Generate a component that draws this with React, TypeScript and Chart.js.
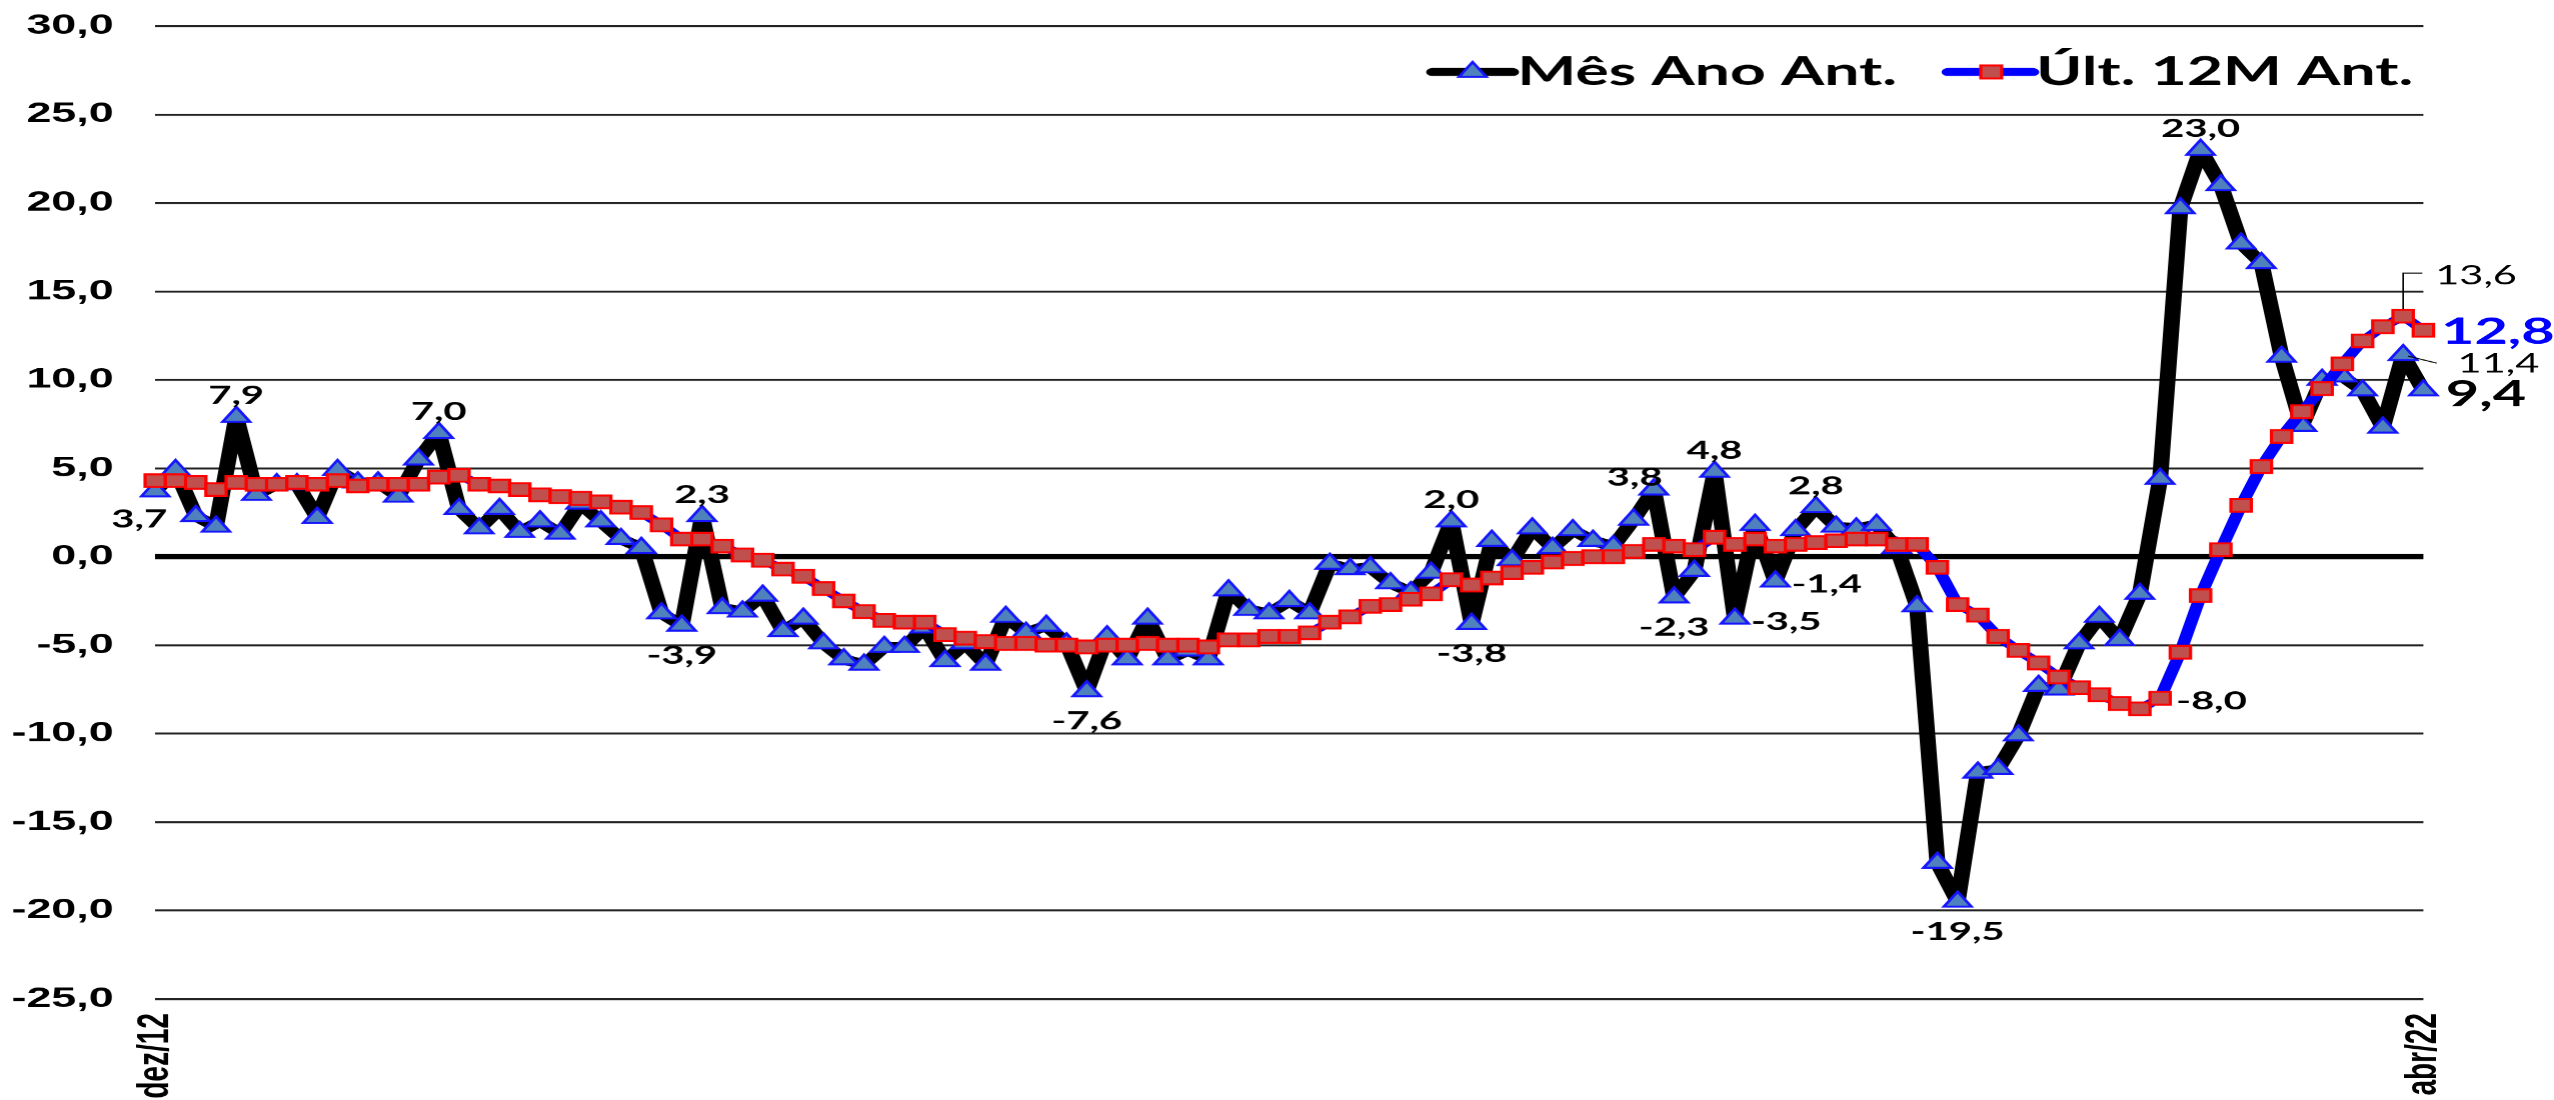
import React, { useEffect, useRef } from 'react';
import { Chart, registerables } from 'chart.js';

Chart.register(...registerables);

// ---------- data ----------
const monthNames = ['jan', 'fev', 'mar', 'abr', 'mai', 'jun', 'jul', 'ago', 'set', 'out', 'nov', 'dez'];
const categories: string[] = [];
for (let k = 0; k < 113; k++) {
  const m = (11 + k) % 12;
  const y = 12 + Math.floor((11 + k) / 12);
  categories.push(`${monthNames[m]}/${String(y).padStart(2, '0')}`);
}
const shownTickIdx = [0, 112];

const mesAnoAnt = [
  3.7, 4.9, 2.3, 1.7, 7.9, 3.5, 4.1, 4.1, 2.2, 4.9,
  4.2, 4.2, 3.4, 5.5, 7.0, 2.7, 1.6, 2.7, 1.4, 2.0,
  1.3, 3.0, 2.0, 1.0, 0.5, -3.2, -3.9, 2.3, -2.9, -3.1,
  -2.2, -4.2, -3.5, -4.9, -5.8, -6.1, -5.1, -5.1, -4.0, -5.9,
  -4.9, -6.1, -3.4, -4.3, -3.9, -4.9, -7.6, -4.5, -5.8, -3.5,
  -5.8, -5.3, -5.8, -1.9, -3.0, -3.2, -2.5, -3.2, -0.4, -0.7,
  -0.6, -1.5, -2.0, -0.9, 2.0, -3.8, 0.9, -0.2, 1.6, 0.5,
  1.5, 0.9, 0.6, 2.1, 3.8, -2.3, -0.8, 4.8, -3.5, 1.8,
  -1.4, 1.5, 2.8, 1.7, 1.6, 1.8, 0.5, -2.8, -17.3, -19.5,
  -12.2, -12.0, -10.1, -7.3, -7.5, -4.9, -3.4, -4.7, -2.1, 4.4,
  19.7, 23.0, 21.0, 17.7, 16.6, 11.3, 7.4, 10.0, 10.2, 9.4,
  7.3, 11.4, 9.4,
];

const ult12MAnt = [
  4.3, 4.3, 4.2, 3.8, 4.2, 4.1, 4.1, 4.2, 4.1, 4.3,
  4.0, 4.1, 4.1, 4.1, 4.5, 4.6, 4.1, 4.0, 3.8, 3.5,
  3.4, 3.3, 3.1, 2.8, 2.5, 1.8, 1.0, 1.0, 0.6, 0.1,
  -0.2, -0.7, -1.1, -1.8, -2.5, -3.1, -3.6, -3.7, -3.7, -4.4,
  -4.6, -4.8, -4.9, -4.9, -5.0, -5.0, -5.1, -5.0, -5.0, -4.9,
  -5.0, -5.0, -5.1, -4.7, -4.7, -4.5, -4.5, -4.3, -3.7, -3.4,
  -2.8, -2.7, -2.4, -2.1, -1.3, -1.6, -1.2, -0.9, -0.6, -0.3,
  -0.1, 0.0, 0.0, 0.3, 0.7, 0.6, 0.4, 1.1, 0.7, 1.0,
  0.6, 0.7, 0.8, 0.9, 1.0, 1.0, 0.7, 0.7, -0.6, -2.7,
  -3.3, -4.5, -5.3, -6.0, -6.8, -7.4, -7.8, -8.3, -8.6, -8.0,
  -5.4, -2.2, 0.4, 2.9, 5.1, 6.8, 8.2, 9.5, 10.9, 12.2,
  13.0, 13.6, 12.8,
];

const seriesNames = ['Mês Ano Ant.', 'Últ. 12M Ant.'];
const yMin = -25;
const yMax = 30;
const yStep = 5;

// labelled points: [index, position]
const mesLabelIdx = [0, 4, 14, 26, 27, 46, 64, 65, 74, 75, 77, 78, 80, 82, 89, 101];
const mesLabelPos = ['bl', 't', 't', 'b', 't', 'b', 't', 'b', 'tl', 'b', 't', 'r', 'r', 't', 'b', 't'];
const ultLabelIdx = [99];
const ultLabelPos = ['r'];

// ---------- geometry / styles ----------
const STRETCH = 1.6; // reference is horizontally stretched
const FULL_W = 2554;
const H = 1100;
const W = 1596;

const fmt = (v: number) => v.toFixed(1).replace('.', ',');
const LABEL_FONT = 'bold 25px Lato';

const dataLabelPlugin = {
  id: 'dataLabelsCustom',
  afterDatasetsDraw(chart: any) {
    const ctx = chart.ctx as CanvasRenderingContext2D;
    const m0 = chart.getDatasetMeta(0);
    const m1 = chart.getDatasetMeta(1);
    ctx.save();
    ctx.fillStyle = '#000';

    const drawAt = (meta: any, values: number[], idx: number, pos: string) => {
      const p = meta.data[idx];
      const txt = fmt(values[idx]);
      ctx.font = LABEL_FONT;
      ctx.fillStyle = '#000';
      if (pos === 't') {
        ctx.textAlign = 'center'; ctx.textBaseline = 'alphabetic';
        ctx.fillText(txt, p.x, p.y - 13);
      } else if (pos === 'b') {
        ctx.textAlign = 'center'; ctx.textBaseline = 'alphabetic';
        ctx.fillText(txt, p.x, p.y + 38);
      } else if (pos === 'r') {
        ctx.textAlign = 'left'; ctx.textBaseline = 'middle';
        ctx.fillText(txt, p.x + 10, p.y + 3);
      } else if (pos === 'bl') {
        ctx.textAlign = 'center'; ctx.textBaseline = 'alphabetic';
        ctx.fillText(txt, p.x - 10, p.y + 36);
      } else if (pos === 'tl') {
        ctx.textAlign = 'center'; ctx.textBaseline = 'alphabetic';
        ctx.fillText(txt, p.x - 12, p.y - 4);
      }
    };
    mesLabelIdx.forEach((idx, k) => drawAt(m0, mesAnoAnt, idx, mesLabelPos[k]));
    ultLabelIdx.forEach((idx, k) => drawAt(m1, ult12MAnt, idx, ultLabelPos[k]));

    const last = mesAnoAnt.length - 1;
    const prev = last - 1;
    // leader labels
    const q = m1.data[prev];
    ctx.strokeStyle = '#000';
    ctx.lineWidth = 1;
    ctx.beginPath();
    ctx.moveTo(q.x, q.y - 7);
    ctx.lineTo(q.x, q.y - 43);
    ctx.lineTo(q.x + 12, q.y - 43);
    ctx.stroke();
    ctx.font = '26px Lato';
    ctx.textAlign = 'left'; ctx.textBaseline = 'middle';
    ctx.fillText(fmt(ult12MAnt[prev]), q.x + 20, q.y - 40);

    const r = m0.data[prev];
    ctx.beginPath();
    ctx.moveTo(r.x + 3, r.y + 1);
    ctx.lineTo(r.x + 21, r.y + 8);
    ctx.stroke();
    ctx.fillText(fmt(mesAnoAnt[prev]), r.x + 34, r.y + 9);

    // big end labels
    const a = m1.data[last];
    ctx.font = 'bold 36px Lato';
    ctx.fillStyle = '#0000FF';
    ctx.fillText(fmt(ult12MAnt[last]), a.x + 11, a.y + 2);
    const b = m0.data[last];
    ctx.fillStyle = '#000';
    ctx.fillText(fmt(mesAnoAnt[last]), b.x + 14, b.y + 4);
    ctx.restore();
  },
};

const legendPlugin = {
  id: 'legendCustom',
  afterDraw(chart: any) {
    const ctx = chart.ctx as CanvasRenderingContext2D;
    ctx.save();
    const y = 72;
    // series 1
    ctx.lineCap = 'round';
    ctx.lineWidth = 8;
    ctx.strokeStyle = '#000';
    ctx.beginPath(); ctx.moveTo(895, y); ctx.lineTo(945, y); ctx.stroke();
    ctx.beginPath();
    ctx.moveTo(920, y - 10);
    ctx.lineTo(920 + 8.66, y + 5);
    ctx.lineTo(920 - 8.66, y + 5);
    ctx.closePath();
    ctx.fillStyle = '#4F81BD'; ctx.fill();
    ctx.lineWidth = 2; ctx.strokeStyle = '#1515FF'; ctx.stroke();
    // series 2
    ctx.lineWidth = 8; ctx.strokeStyle = '#0000FF';
    ctx.beginPath(); ctx.moveTo(1217, y); ctx.lineTo(1270, y); ctx.stroke();
    ctx.fillStyle = '#C0504D';
    ctx.fillRect(1237.5, y - 6.5, 13, 13);
    ctx.lineWidth = 2; ctx.strokeStyle = '#FF0000';
    ctx.strokeRect(1237.5, y - 6.5, 13, 13);
    // text
    ctx.fillStyle = '#000';
    ctx.font = 'bold 39px Lato';
    ctx.textAlign = 'left'; ctx.textBaseline = 'alphabetic';
    ctx.fillText(seriesNames[0], 948, 85);
    ctx.fillText(seriesNames[1], 1272, 85);
    ctx.restore();
  },
};

export default function App() {
  const ref = useRef<HTMLCanvasElement | null>(null);

  useEffect(() => {
    document.body.style.margin = '0';
    const canvas = ref.current!;
    const chart = new Chart(canvas, {
      type: 'line',
      data: {
        labels: categories,
        datasets: [
          {
            label: seriesNames[0],
            data: mesAnoAnt,
            order: 2,
            borderColor: '#000000',
            borderWidth: 10,
            borderJoinStyle: 'round',
            borderCapStyle: 'round',
            tension: 0,
            pointStyle: 'triangle',
            pointRadius: 10,
            pointBackgroundColor: '#4F81BD',
            pointBorderColor: '#1515FF',
            pointBorderWidth: 2,
          },
          {
            label: seriesNames[1],
            data: ult12MAnt,
            order: 1,
            borderColor: '#0000FF',
            borderWidth: 8,
            borderJoinStyle: 'round',
            borderCapStyle: 'round',
            tension: 0,
            pointStyle: 'rect',
            pointRadius: 9,
            pointBackgroundColor: '#C0504D',
            pointBorderColor: '#FF0000',
            pointBorderWidth: 2,
          },
        ],
      },
      options: {
        responsive: false,
        animation: false,
        devicePixelRatio: STRETCH,
        events: [],
        layout: { padding: { top: 26, right: 82, bottom: 0, left: 0 } },
        plugins: {
          legend: { display: false },
          tooltip: { enabled: false },
        },
        scales: {
          x: {
            type: 'category',
            offset: false,
            grid: { display: false, drawTicks: false },
            border: { display: false },
            ticks: {
              autoSkip: false,
              maxRotation: 90,
              minRotation: 90,
              padding: 14,
              color: '#000',
              font: { family: 'Liberation Sans', weight: 'bold', size: 28 },
              callback: (_v: any, i: number) => (shownTickIdx.includes(i) ? categories[i] : ''),
            },
            afterFit: (s: any) => {
              s.height = 101;
              s.paddingLeft = 0;
              s.paddingRight = 0;
            },
          },
          y: {
            min: yMin,
            max: yMax,
            border: { display: false },
            grid: {
              drawTicks: false,
              color: (c: any) => (c.tick && c.tick.value === 0 ? '#000' : '#222'),
              lineWidth: (c: any) => (c.tick && c.tick.value === 0 ? 5.5 : 2),
            },
            ticks: {
              stepSize: yStep,
              padding: 26,
              color: '#000',
              font: { family: 'Liberation Sans', weight: 'bold', size: 28 },
              callback: (v: any) => fmt(Number(v)),
            },
            afterFit: (s: any) => {
              s.width = 97;
              s.paddingTop = 0;
              s.paddingBottom = 0;
            },
          },
        },
      },
      plugins: [dataLabelPlugin, legendPlugin],
    });
    return () => chart.destroy();
  }, []);

  return (
    <div style={{ width: FULL_W, height: H, overflow: 'hidden', background: '#fff' }}>
      <canvas
        ref={ref}
        width={W}
        height={H}
        style={{ width: `${FULL_W}px`, height: `${H}px`, display: 'block' }}
      />
    </div>
  );
}
